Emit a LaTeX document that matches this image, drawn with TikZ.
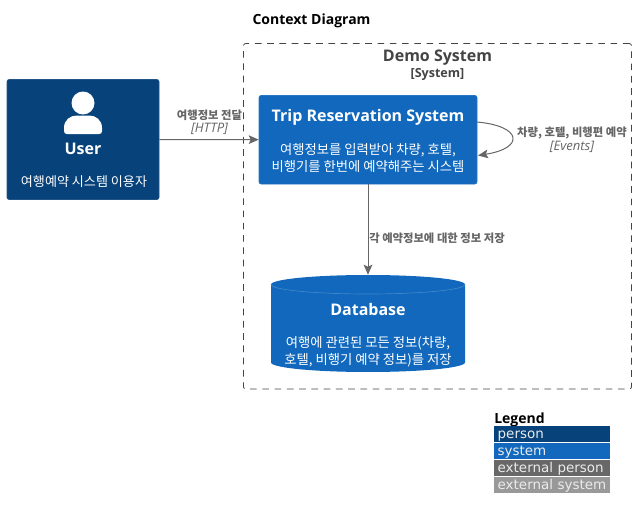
\documentclass[tikz,border=0pt]{standalone}
\usepackage{fontspec}
\setmainfont{Open Sans}
\newfontfamily\krfont{Noto Sans CJK KR}
\newfontfamily\legendfont{DejaVu Sans}
\usetikzlibrary{positioning}
\usetikzlibrary{arrows.meta}

\definecolor{personblue}{HTML}{08427B}
\definecolor{systemblue}{HTML}{1168BD}
\definecolor{extperson}{HTML}{686868}
\definecolor{extsystem}{HTML}{999999}
\definecolor{relgray}{HTML}{666666}
\definecolor{boundgray}{HTML}{444444}

\tikzset{
  box/.style={draw=#1!90!white,fill=#1,rounded corners=1.5pt,text=white,align=center,inner sep=0pt},
  boxtitle/.style={font=\bfseries\fontsize{12}{14}\selectfont},
  boxtext/.style={font=\krfont\fontsize{10}{12.75}\selectfont,text=white,align=center},
  rel/.style={color=relgray,line width=.75pt},
  rellabel/.style={text=relgray,align=center,font=\krfont\bfseries\fontsize{8.5}{10}\selectfont},
  reltech/.style={text=relgray,font=\itshape\fontsize{9.8}{11}\selectfont},
  legendrow/.style={fill=#1,text=white!92!black,minimum width=87pt,minimum height=11.8pt,inner sep=0pt,
    text width=81.5pt,text height=8.9pt,text depth=1.5pt,font=\legendfont\fontsize{10.1}{11}\selectfont}
}

\begin{document}
\begin{tikzpicture}[x=.75pt,y=-.75pt,->,>={Stealth[length=7.5pt,width=6.5pt,inset=1.5pt]}]
  \useasboundingbox (0,0) rectangle (637,514);

  \node (title) at (311.5,21) {\bfseries\fontsize{10.5}{12}\selectfont Context Diagram};

  % boundary
  \node (demo) [draw=boundgray,dash pattern=on 5pt off 4.2pt,line width=.6pt,rounded corners=1.5pt,
    minimum width=291pt,minimum height=259pt] at (437.5,216.25) {};
  \node (demoname) at (437.5,57.5) [text=boundgray,font=\bfseries\fontsize{12}{14}\selectfont] {Demo System};
  \node (demotype) at (437.5,74) [text=boundgray,font=\bfseries\fontsize{9.4}{11}\selectfont] {[System]};

  % user
  \node (user) [box=personblue,minimum width=114pt,minimum height=90pt] at (83,139.5) {};
  \fill[white] (83,103) circle (11.5);
  \fill[white] (64,131) -- (64,128) .. controls (64,120) and (70,115.5) .. (77,115.5) -- (89,115.5)
    .. controls (96,115.5) and (102,120) .. (102,128) -- (102,131) .. controls (102,133) and (101,134) .. (99,134)
    -- (67,134) .. controls (65,134) and (64,133) .. (64,131) -- cycle;
  \node (username) at (83,148.5) [boxtitle,text=white] {User};
  \node (userdesc) at (84,182) [font=\krfont\fontsize{9.8}{12.75}\selectfont,text=white] {여행예약 시스템 이용자};

  % system
  \node (trip) [box=systemblue,minimum width=163.5pt,minimum height=66.4pt] at (368,139.75) {};
  \node (tripname) at (368,117) [boxtitle,text=white] {Trip Reservation System};
  \node (tripdesc) at (368,158) [boxtext] {여행정보를 입력받아 차량, 호텔,\\비행기를 한번에 예약해주는 시스템};

  % database
  \fill[systemblue] (271,284.5) .. controls (271,279.25) and (314.4,275) .. (368,275)
    .. controls (421.6,275) and (465,279.25) .. (465,284.5) -- (465,362.5)
    .. controls (465,367.75) and (421.6,372) .. (368,372)
    .. controls (314.4,372) and (271,367.75) .. (271,362.5) -- cycle;
  \draw[systemblue!80!white,line width=.5pt,-] (271,284.5) .. controls (271,289.75) and (314.4,294) .. (368,294)
    .. controls (421.6,294) and (465,289.75) .. (465,284.5);
  \node (db) [minimum width=145.5pt,minimum height=72.75pt,inner sep=0pt] at (368,323.5) {};
  \node (dbname) at (368,309.5) [boxtitle,text=white] {Database};
  \node (dbdesc) at (368,351.5) [boxtext] {여행에 관련된 모든 정보(차량,\\호텔, 비행기 예약 정보)를 저장};

  % relations
  \coordinate (loopout) at (477,122);
  \coordinate (loopin) at (478,155.5);
  \path[rel]
  (user) edge (trip)
  (trip) edge (db);
  \draw[rel] (loopout) .. controls (522,126) and (525,148) .. (loopin);

  \node (httplabel) at (209.5,115) [rellabel] {여행정보 전달};
  \node (httptech) at (209.5,128.5) [reltech] {[HTTP]};
  \node (looplabel) at (572,133) [rellabel] {차량, 호텔, 비행편 예약};
  \node (looptech) at (572,146.5) [reltech] {[Events]};
  \node (dblabel) at (437,238) [rellabel] {각 예약정보에 대한 정보 저장};

  % legend
  \node (legendname) at (519.5,420) [font=\bfseries\fontsize{10.5}{12}\selectfont] {Legend};
  \node (lperson) at (552,434) [legendrow=personblue] {person};
  \node (lsystem) [below=.5pt of lperson,legendrow=systemblue] {system};
  \node (lextperson) [below=.5pt of lsystem,legendrow=extperson] {external person};
  \node (lextsystem) [below=.5pt of lextperson,legendrow=extsystem] {external system};
\end{tikzpicture}
\end{document}
